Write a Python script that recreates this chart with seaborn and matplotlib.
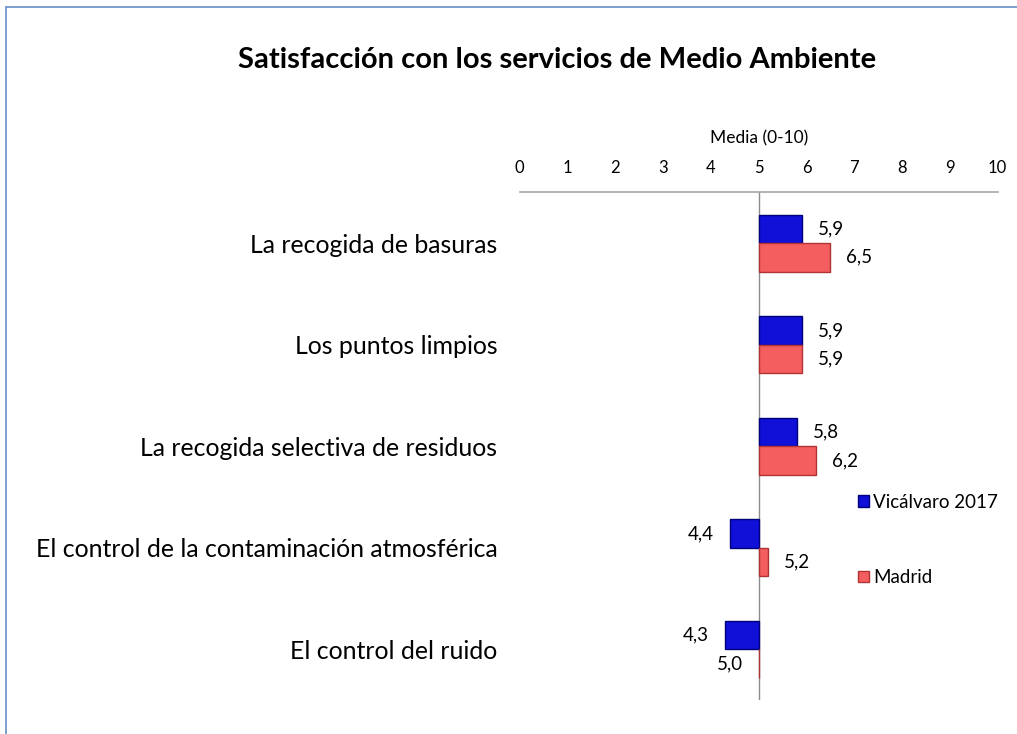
import numpy as np
import pandas as pd
import matplotlib
matplotlib.use("Agg")
import matplotlib.pyplot as plt
from matplotlib.lines import Line2D
import seaborn as sns

categorias = ['La recogida de basuras', 'Los puntos limpios',
              'La recogida selectiva de residuos',
              'El control de la contaminación atmosférica',
              'El control del ruido']
vicalvaro = [5.9, 5.9, 5.8, 4.4, 4.3]
madrid = [6.5, 5.9, 6.2, 5.2, 5.0]
series = ['Vicálvaro 2017', 'Madrid']
colores = {'Vicálvaro 2017': '#1010D8', 'Madrid': '#F45E5E'}
bordes = {'Vicálvaro 2017': '#00007A', 'Madrid': '#B03434'}
base = 5

df = pd.DataFrame({
    'servicio': categorias * 2,
    'media': vicalvaro + madrid,
    'serie': [series[0]] * len(categorias) + [series[1]] * len(categorias),
})

sns.set_style('white')
plt.rcParams['font.family'] = ['Lato', 'DejaVu Sans']
plt.rcParams['text.color'] = 'black'
plt.rcParams['xtick.color'] = 'black'
plt.rcParams['ytick.color'] = 'black'
plt.rcParams['axes.labelcolor'] = 'black'

fig = plt.figure(figsize=(10.17, 7.34), dpi=100)
ax = fig.add_axes([0.511, 0.046, 0.470, 0.692])

sns.barplot(data=df, y='servicio', x='media', hue='serie', order=categorias,
            hue_order=series, palette=colores, width=0.56, orient='h',
            saturation=1, ax=ax, legend=False)

# las barras parten del 5 (el eje vertical cruza en 5)
for cont, serie in zip(ax.containers, series):
    for p in cont:
        w = p.get_width()
        p.set_x(base)
        p.set_width(w - base)
        p.set_edgecolor(bordes[serie])
        p.set_linewidth(1.0)

# etiquetas de valor
for cont, serie in zip(ax.containers, series):
    for p in cont:
        fin = p.get_x() + p.get_width()
        val = fin
        yc = p.get_y() + p.get_height() / 2
        txt = f'{val:.1f}'.replace('.', ',')
        if val > base:
            ax.annotate(txt, (max(fin, base), yc), xytext=(16, 0),
                        textcoords='offset pixels', ha='left', va='center',
                        fontsize=13.5)
        else:
            ax.annotate(txt, (min(fin, base), yc), xytext=(-16, 0),
                        textcoords='offset pixels', ha='right', va='center',
                        fontsize=13.5)

ax.set_xlim(0, 10)
ax.set_ylim(len(categorias) - 0.5, -0.5)
ax.set_xticks(range(0, 11))
ax.xaxis.tick_top()
ax.xaxis.set_label_position('top')
ax.tick_params(axis='x', length=0, labelsize=12, pad=12)
ax.tick_params(axis='y', length=0, labelsize=17.9, pad=16)
ax.set_xlabel('Media (0-10)', fontsize=12.5, labelpad=12)
ax.set_ylabel('')
for s in ['left', 'right', 'bottom']:
    ax.spines[s].set_visible(False)
ax.spines['top'].set_color('#A6A6A6')
ax.spines['top'].set_linewidth(1.2)
ax.axvline(base, color='#8C8C8C', linewidth=1.0, zorder=0)

# leyenda
handles = [plt.Rectangle((0, 0), 1, 1, facecolor=colores[s], edgecolor=bordes[s]) for s in series]
fig.legend(handles, series, loc='upper left', bbox_to_anchor=(0.827, 0.35),
           frameon=False, fontsize=13.5, handlelength=0.6, handleheight=0.6,
           handletextpad=0.2, labelspacing=3.1)

fig.text(0.548, 0.918, 'Satisfacción con los servicios de Medio Ambiente',
         ha='center', va='center', fontsize=21, fontweight='bold')

# marco del gráfico
fig.add_artist(Line2D([0.006, 0.006], [0.0, 0.99], transform=fig.transFigure,
                      color='#6A8FC8', linewidth=1.2))
fig.add_artist(Line2D([0.006, 1.0], [0.99, 0.99], transform=fig.transFigure,
                      color='#6A8FC8', linewidth=1.2))

fig.savefig('out.png', dpi=100)
